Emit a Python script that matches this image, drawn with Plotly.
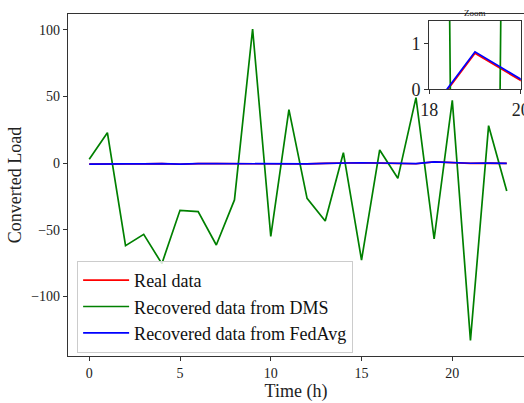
import plotly.graph_objects as go

hours = list(range(24))
real_data = [-0.83, -0.52, -0.63, -0.73, -0.53, -0.93, -0.43, -0.53, -0.63, -0.63, -0.83,
             -0.53, -0.63, -0.33, 0.07, 0.17, -0.03, -0.43, -0.55, 0.79, 0.19, -0.23, -0.13, -0.33]
dms_data = [2.8, 22.7, -62.0, -53.5, -75.5, -35.5, -36.5, -61.5, -27.7, 100.5, -55.0, 40.0,
            -26.5, -43.5, 7.7, -72.8, 9.8, -11.5, 49.0, -57.0, 47.0, -133.0, 28.0, -21.0]
fedavg_data = [-0.8, -0.5, -0.6, -0.7, -0.5, -0.9, -0.4, -0.5, -0.6, -0.6, -0.8,
               -0.5, -0.6, -0.3, 0.1, 0.2, 0.0, -0.4, -0.52, 0.82, 0.22, -0.2, -0.1, -0.3]

x_ticks = [0, 5, 10, 15, 20]
y_ticks = [-100, -50, 0, 50, 100]
y_tick_labels = ["\u2212100", "\u221250", "0", "50", "100"]

FONT = "Liberation Serif"
AX = "#333333"

fig = go.Figure()
series = [("Real data", real_data, "red"),
          ("Recovered data from DMS", dms_data, "green"),
          ("Recovered data from FedAvg", fedavg_data, "blue")]
for name, ys, col in series:
    fig.add_trace(go.Scatter(x=hours, y=ys, mode="lines", name=name,
                             line=dict(color=col, width=1.7), xaxis="x", yaxis="y"))
for name, ys, col in series:
    fig.add_trace(go.Scatter(x=hours, y=ys, mode="lines", name=name, showlegend=False,
                             line=dict(color=col, width=1.7), xaxis="x2", yaxis="y2"))

fig.update_layout(
    width=524, height=403,
    margin=dict(l=68, r=0, t=14, b=47, autoexpand=False),
    paper_bgcolor="white", plot_bgcolor="white",
    font=dict(family=FONT, color="#222"),
    showlegend=True,
    legend=dict(x=0.02, y=0.278, xanchor="left", yanchor="top", itemwidth=46,
                bgcolor="rgba(255,255,255,0.85)", bordercolor="#cccccc", borderwidth=1,
                font=dict(size=18, family=FONT, color="#111")),
    xaxis=dict(domain=[0, 1], range=[-1.17, 23.95], tickvals=x_ticks,
               showgrid=False, zeroline=False, showline=True, linecolor=AX, linewidth=1.2,
               mirror=True, ticks="outside", ticklen=4, tickcolor=AX,
               tickfont=dict(size=14, family=FONT),
               title=dict(text="Time (h)", font=dict(size=18, family=FONT), standoff=4)),
    yaxis=dict(domain=[0, 1], range=[-144.75, 111.75], tickvals=y_ticks, ticktext=y_tick_labels,
               showgrid=False, zeroline=False, showline=True, linecolor=AX, linewidth=1.2,
               ticks="outside", ticklen=4, tickcolor=AX,
               tickfont=dict(size=14, family=FONT),
               title=dict(text="Converted Load", font=dict(size=18, family=FONT), standoff=4)),
    xaxis2=dict(domain=[0.792, 0.993], anchor="y2", range=[18, 20], tickvals=[18, 20],
                showgrid=False, zeroline=False, showline=True, linecolor=AX, linewidth=1.2,
                mirror=True, ticks="outside", ticklen=4, tickcolor=AX,
                ticklabeloverflow="allow", automargin=False,
                tickfont=dict(size=18, family=FONT)),
    yaxis2=dict(domain=[0.780, 0.980], anchor="x2", range=[0, 1.5], tickvals=[0, 1],
                showgrid=False, zeroline=False, showline=True, linecolor=AX, linewidth=1.2,
                mirror=True, ticks="outside", ticklen=4, tickcolor=AX, automargin=False,
                tickfont=dict(size=18, family=FONT)),
    annotations=[dict(text="Zoom", x=0.8925, y=0.980, xref="paper", yref="paper",
                      xanchor="center", yanchor="bottom", yshift=1, showarrow=False,
                      font=dict(size=9, family=FONT, color="#222"))],
)

fig.write_html("out.html", config={"displayModeBar": False},
               post_script="document.body.style.margin='0';document.body.style.overflow='hidden';")
